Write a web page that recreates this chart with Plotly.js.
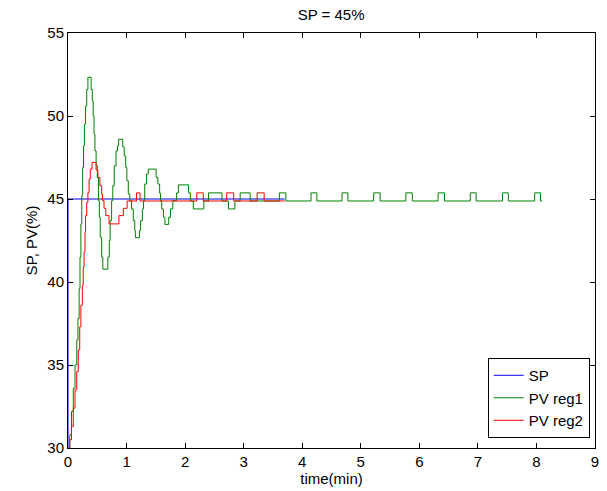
<!DOCTYPE html>
<html>
<head>
<meta charset="utf-8">
<script src="https://cdn.plot.ly/plotly-3.0.1.min.js"></script>
<style>html,body{margin:0;padding:0;background:#fff;}#chart{width:607px;height:491px;}</style>
</head>
<body>
<div id="chart"></div>
<script>
// Set point
const spTime = [0, 0, 3.7];
const spValue = [30, 45, 45];

// PV reg1 (green), stepwise samples
const reg1Time = [0, 0.03, 0.06, 0.09, 0.12, 0.15, 0.17, 0.19, 0.205, 0.22, 0.235, 0.25, 0.265, 0.28, 0.30, 0.32, 0.34, 0.395, 0.415, 0.43, 0.445, 0.46, 0.48, 0.50, 0.52, 0.535, 0.55, 0.575, 0.595, 0.68, 0.705, 0.72, 0.745, 0.765, 0.79, 0.82, 0.845, 0.865, 0.935, 0.96, 0.985, 1.005, 1.03, 1.055, 1.085, 1.115, 1.14, 1.15, 1.22, 1.24, 1.27, 1.29, 1.31, 1.34, 1.37, 1.505, 1.535, 1.565, 1.58, 1.60, 1.63, 1.655, 1.72, 1.75, 1.79, 1.855, 1.885, 2.06, 2.09, 2.14, 2.32, 2.40, 2.63, 2.74, 2.85, 2.94, 3.11, 3.61, 3.72, 4.15, 4.25, 4.68, 4.78, 5.22, 5.33, 5.77, 5.88, 6.32, 6.43, 6.87, 6.97, 7.42, 7.52, 7.97, 8.07, 8.1];
const reg1Value = [30, 30.8, 32.2, 33.6, 35.0, 36.5, 37.8, 39.6, 41.5, 43.5, 45.2, 46.9, 48.2, 49.5, 50.6, 51.6, 52.33, 51.6, 50.9, 50.0, 48.9, 47.9, 47.0, 46.3, 44.9, 43.9, 42.7, 41.5, 40.77, 41.5, 42.5, 43.7, 44.9, 45.8, 47.0, 47.9, 48.2, 48.6, 48.15, 47.6, 46.9, 46.1, 45.3, 44.9, 44.4, 43.7, 43.1, 42.67, 43.1, 43.7, 44.4, 44.9, 45.9, 46.5, 46.8, 46.3, 45.9, 45.35, 44.9, 44.4, 43.9, 43.47, 43.9, 44.4, 44.9, 45.37, 45.85, 45.37, 44.88, 44.4, 44.88, 45.37, 44.88, 44.4, 44.88, 45.37, 44.88, 45.37, 44.88, 45.37, 44.88, 45.37, 44.88, 45.37, 44.88, 45.37, 44.88, 45.37, 44.88, 45.37, 44.88, 45.37, 44.88, 45.37, 44.88, 44.88];

// PV reg2 (red), stepwise samples
const reg2Time = [0, 0.03, 0.06, 0.09, 0.12, 0.15, 0.175, 0.2, 0.22, 0.245, 0.26, 0.275, 0.29, 0.30, 0.32, 0.34, 0.36, 0.38, 0.41, 0.48, 0.51, 0.545, 0.575, 0.59, 0.615, 0.645, 0.70, 0.87, 0.945, 1.01, 1.17, 1.23, 2.2, 2.31, 2.71, 2.83, 3.23, 3.35, 3.7];
const reg2Value = [30, 30.5, 31.3, 32.4, 33.5, 34.6, 35.9, 37.3, 38.6, 39.8, 40.9, 41.8, 43.0, 44.0, 44.8, 45.4, 46.2, 46.8, 47.2, 46.75, 46.3, 45.8, 45.3, 44.9, 44.44, 44.0, 43.5, 44.0, 44.44, 44.88, 45.37, 44.88, 45.37, 44.88, 45.37, 44.88, 45.37, 44.88, 44.88];

const xTicks = [0, 1, 2, 3, 4, 5, 6, 7, 8, 9];
const yTicks = [30, 35, 40, 45, 50, 55];

const FONT = 'Liberation Sans, Arial, sans-serif';
const FS = 15;

const traces = [
  {x: spTime, y: spValue, name: 'SP', type: 'scatter', mode: 'lines',
   line: {color: '#0000ff', width: 1}},
  {x: reg1Time, y: reg1Value, name: 'PV reg1', type: 'scatter', mode: 'lines',
   line: {color: '#008000', width: 1, shape: 'hv'}},
  {x: reg2Time, y: reg2Value, name: 'PV reg2', type: 'scatter', mode: 'lines',
   line: {color: '#ff0000', width: 1, shape: 'hv'}}
];

const axisCommon = {
  showgrid: false, zeroline: false, showline: true, linecolor: '#000', linewidth: 1,
  mirror: 'allticks', ticks: 'inside', ticklen: 5, tickwidth: 1, tickcolor: '#000',
  tickfont: {family: FONT, size: FS, color: '#000'}
};

const layout = {
  width: 607, height: 491,
  margin: {l: 68, r: 12, t: 33, b: 43},
  paper_bgcolor: '#fff', plot_bgcolor: '#fff',
  font: {family: FONT, size: FS, color: '#000'},
  title: {text: 'SP = 45%', x: 0.5455, xanchor: 'center', y: 0.969, yanchor: 'middle',
          font: {family: FONT, size: FS, color: '#000'}},
  xaxis: Object.assign({}, axisCommon, {
    range: [0, 9], tickvals: xTicks, ticktext: xTicks.map(String),
    title: {text: 'time(min)', standoff: 4, font: {family: FONT, size: FS, color: '#000'}}
  }),
  yaxis: Object.assign({}, axisCommon, {
    range: [30, 55], tickvals: yTicks, ticktext: yTicks.map(String),
    title: {text: 'SP, PV(%)', standoff: 6, font: {family: FONT, size: FS, color: '#000'}}
  }),
  showlegend: true,
  legend: {x: 0.99, xanchor: 'right', y: 0.024, yanchor: 'bottom',
           bgcolor: '#fff', bordercolor: '#000', borderwidth: 1,
           font: {family: FONT, size: FS, color: '#000'},
           itemwidth: 30, tracegroupgap: 0, entrywidth: 80, entrywidthmode: 'pixels'}
};

Plotly.newPlot('chart', traces, layout, {displayModeBar: false, staticPlot: true});
</script>
</body>
</html>
